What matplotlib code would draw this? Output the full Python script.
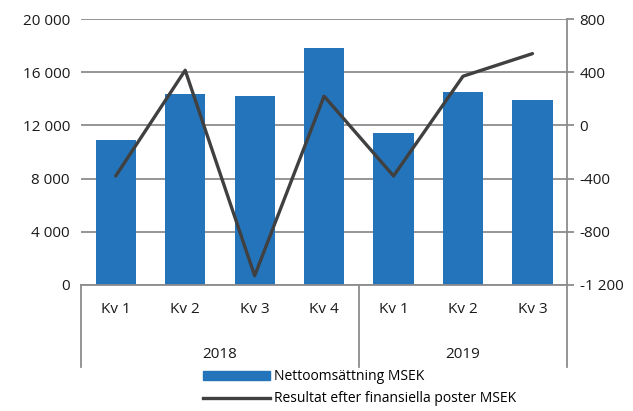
import matplotlib
matplotlib.use("Agg")
import matplotlib.pyplot as plt
import numpy as np
from matplotlib.transforms import blended_transform_factory
from matplotlib.lines import Line2D
from matplotlib.patches import Patch

quarters = ["Kv 1", "Kv 2", "Kv 3", "Kv 4", "Kv 1", "Kv 2", "Kv 3"]
years = ["2018", "2019"]
year_sizes = [4, 3]
net_sales = [10900, 14400, 14200, 17800, 11400, 14500, 13950]
result = [-380, 415, -1130, 220, -380, 370, 540]

BAR = "#2474BB"
LINE = "#404040"
GRID = "#8C8C8C"
TXT = "#1A1A1A"

plt.rcParams["font.family"] = ["Open Sans", "DejaVu Sans"]

fig = plt.figure(figsize=(6.33, 4.11), dpi=100)
ax = fig.add_axes([0.128, 0.3066, 0.768, 0.647])
ax2 = ax.twinx()

x = np.arange(len(quarters))
ax.bar(x, net_sales, width=0.58, color=BAR, zorder=2)
ax.set_xlim(-0.5, len(quarters) - 0.5)
ax.set_ylim(0, 20000)
ax.set_yticks(range(0, 20001, 4000))
ax.set_yticklabels([f"{v:,}".replace(",", " ") for v in range(0, 20001, 4000)])
ax.yaxis.grid(True, color=GRID, lw=1.3)
ax.set_axisbelow(True)

ax2.plot(x, result, color=LINE, lw=2.4, zorder=3, solid_capstyle="round")
ax2.set_ylim(-1200, 800)
ticks2 = range(-1200, 801, 400)
ax2.set_yticks(ticks2)
ax2.set_yticklabels([f"{v:,}".replace(",", " ") for v in ticks2])

for a in (ax, ax2):
    for s in ("top", "left"):
        a.spines[s].set_visible(False)
ax2.spines["bottom"].set_visible(False)
ax.spines["right"].set_visible(False)
ax.spines["bottom"].set_color(GRID)
ax.spines["bottom"].set_linewidth(1.3)
ax2.spines["right"].set_color(GRID)
ax2.spines["right"].set_linewidth(1.3)

ax.tick_params(axis="y", length=0, labelsize=11, labelcolor=TXT, pad=8)
ax2.tick_params(axis="y", length=5, width=1.3, color=GRID, labelsize=11,
                labelcolor=TXT, pad=4)
ax.set_xticks(x)
ax.set_xticklabels(quarters)
ax.tick_params(axis="x", length=0, labelsize=11, labelcolor=TXT, pad=12)

# year groups under the quarter labels
trans = blended_transform_factory(ax.transData, ax.transAxes)
edges = np.concatenate([[0], np.cumsum(year_sizes)]) - 0.5
for e in edges:
    ax.add_line(Line2D([e, e], [0, -0.31], transform=trans, color=GRID,
                       lw=1.3, clip_on=False))
for i, yr in enumerate(years):
    mid = (edges[i] + edges[i + 1]) / 2
    ax.text(mid, -0.26, yr, transform=trans, ha="center", va="center",
            fontsize=11, color=TXT)

handles = [Patch(color=BAR), Line2D([], [], color=LINE, lw=2.4)]
labels = ["Nettoomsättning MSEK", "Resultat efter finansiella poster MSEK"]
fig.legend(handles, labels, loc="upper left", bbox_to_anchor=(0.31, 0.118),
           frameon=False, fontsize=10, handlelength=4.8, handleheight=0.6,
           labelspacing=0.5, handletextpad=0.3, borderpad=0)

fig.savefig("out.png", dpi=100)
